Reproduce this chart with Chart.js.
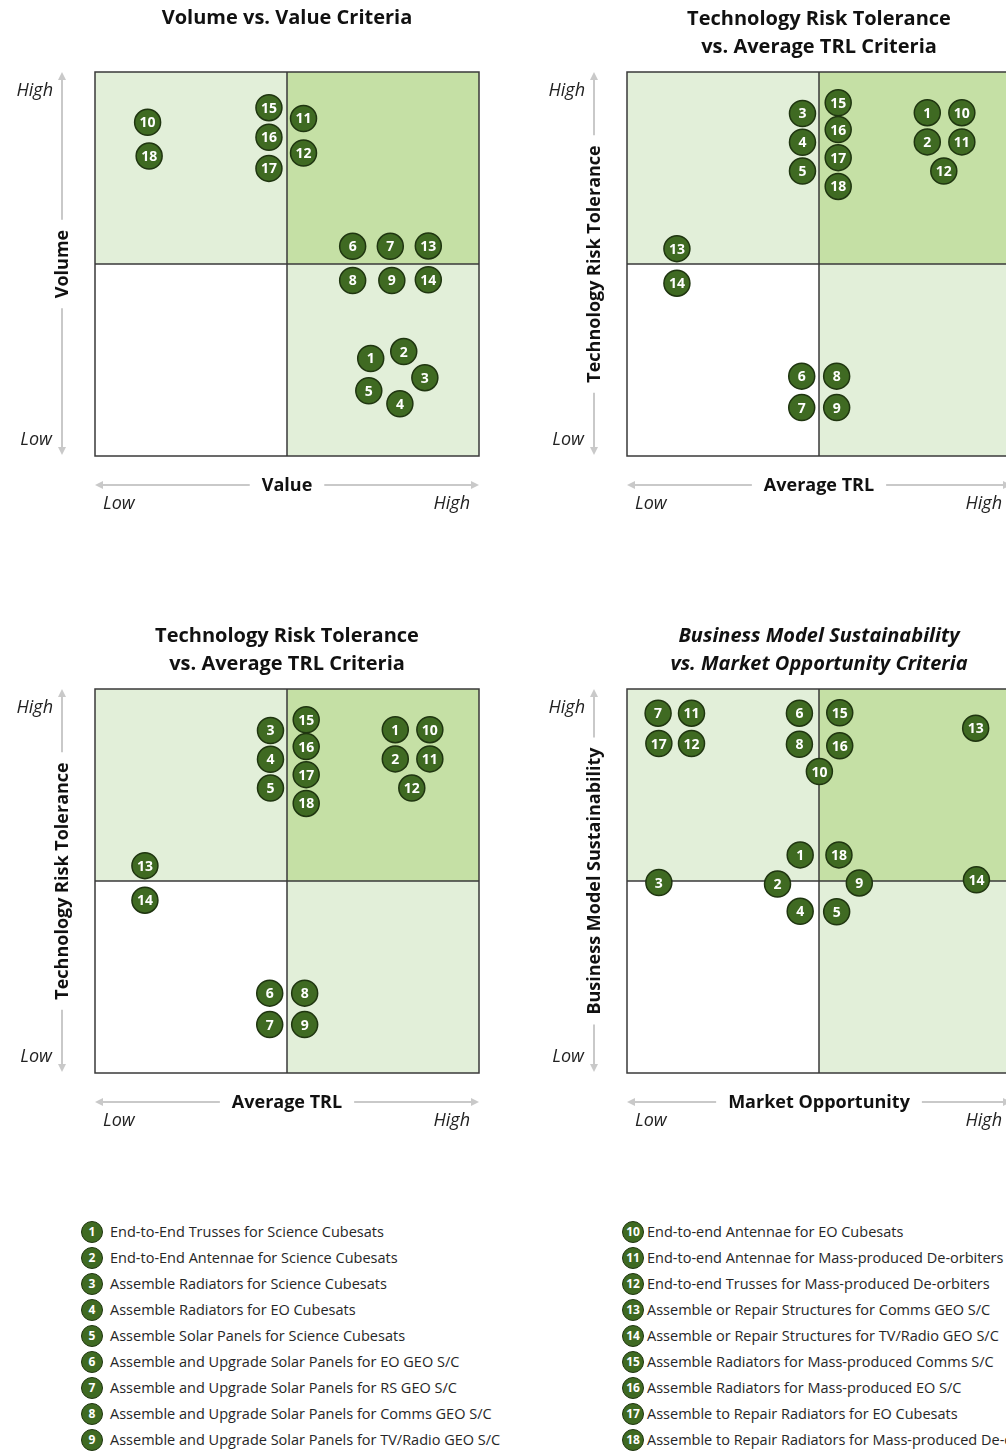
<!DOCTYPE html>
<html>
<head>
<meta charset="utf-8">
<script src="https://cdn.jsdelivr.net/npm/chart.js@4.4.1/dist/chart.umd.min.js"></script>
<style>
  body { margin: 0; width: 1006px; height: 1452px; overflow: hidden; background: #fff; position: relative; font-family: "Open Sans", Lato, sans-serif; }
  .box { position: absolute; }
  .legend { position: absolute; font-size: 14.5px; color: #262626; }
  .legend .row { position: absolute; white-space: nowrap; height: 22px; line-height: 22px; }
  .legend .dot { position: absolute; width: 20px; height: 20px; border-radius: 50%; background: #3f6a22; border: 1px solid #1f3510;
    color: #fff; font-weight: bold; font-size: 12px; line-height: 20px; text-align: center; top: 0; }
  .legend .txt { position: absolute; top: 0; }
</style>
</head>
<body>
<div class="box" style="left:0;top:0"><canvas id="c1"></canvas></div>
<div class="box" style="left:530px;top:0"><canvas id="c2"></canvas></div>
<div class="box" style="left:0;top:617px"><canvas id="c3"></canvas></div>
<div class="box" style="left:530px;top:617px"><canvas id="c4"></canvas></div>
<div class="legend" id="legend"></div>

<script>
// items 1..18
const itemIds = [1, 2, 3, 4, 5, 6, 7, 8, 9, 10, 11, 12, 13, 14, 15, 16, 17, 18];
const itemNames = [
  "End-to-End Trusses for Science Cubesats",
  "End-to-End Antennae for Science Cubesats",
  "Assemble Radiators for Science Cubesats",
  "Assemble Radiators for EO Cubesats",
  "Assemble Solar Panels for Science Cubesats",
  "Assemble and Upgrade Solar Panels for EO GEO S/C",
  "Assemble and Upgrade Solar Panels for RS GEO S/C",
  "Assemble and Upgrade Solar Panels for Comms GEO S/C",
  "Assemble and Upgrade Solar Panels for TV/Radio GEO S/C",
  "End-to-end Antennae for EO Cubesats",
  "End-to-end Antennae for Mass-produced De-orbiters",
  "End-to-end Trusses for Mass-produced De-orbiters",
  "Assemble or Repair Structures for Comms GEO S/C",
  "Assemble or Repair Structures for TV/Radio GEO S/C",
  "Assemble Radiators for Mass-produced Comms S/C",
  "Assemble Radiators for Mass-produced EO S/C",
  "Assemble to Repair Radiators for EO Cubesats",
  "Assemble to Repair Radiators for Mass-produced De-orbiters"
];

// scores on a 0..10 scale, 5 = quadrant divide
// Volume vs Value
const valueScore  = [7.18, 8.04, 8.59, 7.94, 7.13, 6.71, 7.69, 6.71, 7.73, 1.37, 5.43, 5.43, 8.68, 8.68, 4.53, 4.53, 4.53, 1.41];
const volumeScore = [2.54, 2.72, 2.04, 1.36, 1.70, 5.46, 5.46, 4.57, 4.57, 8.69, 8.79, 7.89, 5.47, 4.59, 9.07, 8.30, 7.49, 7.81];
// Technology risk tolerance vs average TRL
const trlScore  = [7.82, 7.82, 4.57, 4.57, 4.57, 4.55, 4.55, 5.46, 5.46, 8.72, 8.72, 8.25, 1.30, 1.30, 5.50, 5.50, 5.50, 5.50];
const riskScore = [8.94, 8.18, 8.92, 8.17, 7.42, 2.08, 1.26, 2.08, 1.26, 8.94, 8.18, 7.42, 5.40, 4.50, 9.20, 8.50, 7.77, 7.02];
// Business model sustainability vs market opportunity
const marketScore   = [4.51, 3.92, 0.83, 4.51, 5.46, 4.49, 0.81, 4.49, 6.05, 5.01, 1.68, 1.68, 9.08, 9.10, 5.54, 5.54, 0.83, 5.52];
const businessScore = [5.68, 4.92, 4.96, 4.21, 4.20, 9.37, 9.37, 8.56, 4.95, 7.85, 9.37, 8.58, 8.98, 5.03, 9.38, 8.52, 8.58, 5.68];

const lightGreen = '#e2efd9';
const midGreen = '#c5e0a5';
const dotFill = '#3f6a22';
const dotEdge = '#1f3510';
const arrowGrey = '#c9c9c9';
const FONT = '"Open Sans", Lato, sans-serif';

const quadrantPlugin = {
  id: 'quadrants',
  beforeDatasetsDraw(chart) {
    const { ctx, chartArea: a, scales: { x, y } } = chart;
    const mx = x.getPixelForValue(5), my = y.getPixelForValue(5);
    ctx.save();
    ctx.fillStyle = lightGreen;
    ctx.fillRect(a.left, a.top, mx - a.left, my - a.top);
    ctx.fillRect(mx, my, a.right - mx, a.bottom - my);
    ctx.fillStyle = midGreen;
    ctx.fillRect(mx, a.top, a.right - mx, my - a.top);
    ctx.strokeStyle = '#3a3a3a';
    ctx.lineWidth = 1.5;
    ctx.strokeRect(a.left, a.top, a.right - a.left, a.bottom - a.top);
    ctx.beginPath();
    ctx.moveTo(mx, a.top); ctx.lineTo(mx, a.bottom);
    ctx.moveTo(a.left, my); ctx.lineTo(a.right, my);
    ctx.stroke();
    ctx.restore();
  },
  afterDatasetsDraw(chart) {
    const { ctx } = chart;
    const ids = chart.data.datasets[0].ids;
    ctx.save();
    ctx.fillStyle = '#fff';
    ctx.font = 'bold 14px ' + FONT;
    ctx.textAlign = 'center';
    ctx.textBaseline = 'middle';
    chart.getDatasetMeta(0).data.forEach((pt, i) => {
      ctx.fillText(String(ids[i]), pt.x, pt.y + 1);
    });
    ctx.restore();
  },
  afterDraw(chart, args, opts) {
    const { ctx, chartArea: a } = chart;
    const cx = (a.left + a.right) / 2;
    const cy = (a.top + a.bottom) / 2;
    ctx.save();
    ctx.fillStyle = '#111';
    ctx.textAlign = 'center';
    ctx.textBaseline = 'middle';
    ctx.font = (opts.italic ? 'italic ' : '') + 'bold 20px ' + FONT;
    if (opts.title.length === 1) {
      ctx.fillText(opts.title[0], cx, a.top - 54);
    } else {
      ctx.fillText(opts.title[0], cx, a.top - 53);
      ctx.fillText(opts.title[1], cx, a.top - 25);
    }

    // axis arrows with gaps for titles
    ctx.font = 'bold 18px ' + FONT;
    const ax = a.left - 33;
    const ay = a.bottom + 29;
    const yw = ctx.measureText(opts.yTitle).width / 2 + 10;
    const xw = ctx.measureText(opts.xTitle).width / 2 + 12;
    ctx.strokeStyle = arrowGrey;
    ctx.fillStyle = arrowGrey;
    ctx.lineWidth = 2;
    ctx.beginPath();
    ctx.moveTo(ax, a.top + 6); ctx.lineTo(ax, cy - yw);
    ctx.moveTo(ax, cy + yw); ctx.lineTo(ax, a.bottom - 6);
    ctx.moveTo(a.left + 6, ay); ctx.lineTo(cx - xw, ay);
    ctx.moveTo(cx + xw, ay); ctx.lineTo(a.right - 6, ay);
    ctx.stroke();
    const tri = (p) => { ctx.beginPath(); ctx.moveTo(p[0], p[1]); ctx.lineTo(p[2], p[3]); ctx.lineTo(p[4], p[5]); ctx.closePath(); ctx.fill(); };
    tri([ax, a.top, ax - 4, a.top + 8, ax + 4, a.top + 8]);
    tri([ax, a.bottom - 1, ax - 4, a.bottom - 9, ax + 4, a.bottom - 9]);
    tri([a.left, ay, a.left + 8, ay - 4, a.left + 8, ay + 4]);
    tri([a.right, ay, a.right - 8, ay - 4, a.right - 8, ay + 4]);

    ctx.fillStyle = '#111';
    ctx.fillText(opts.xTitle, cx, ay + 1);
    ctx.save();
    ctx.translate(ax, cy);
    ctx.rotate(-Math.PI / 2);
    ctx.fillText(opts.yTitle, 0, 1);
    ctx.restore();

    // Low / High end labels
    ctx.font = 'italic 18px ' + FONT;
    ctx.fillStyle = '#222';
    ctx.textAlign = 'right';
    ctx.fillText('High', a.left - 42, a.top + 19);
    ctx.fillText('Low', a.left - 43, a.bottom - 16);
    ctx.textAlign = 'left';
    ctx.fillText('Low', a.left + 8, a.bottom + 48);
    ctx.textAlign = 'right';
    ctx.fillText('High', a.right - 9, a.bottom + 48);
    ctx.restore();
  }
};

function makeQuadrant(id, w, padLeft, xs, ys, title, italic, xTitle, yTitle) {
  const canvas = document.getElementById(id);
  canvas.style.width = w + 'px';
  canvas.style.height = '530px';
  canvas.width = w;
  canvas.height = 530;
  return new Chart(canvas, {
    type: 'scatter',
    data: {
      datasets: [{
        ids: itemIds,
        data: xs.map((v, i) => ({ x: v, y: ys[i] })),
        backgroundColor: dotFill,
        borderColor: dotEdge,
        borderWidth: 1.5,
        pointRadius: 13,
        pointHoverRadius: 13
      }]
    },
    options: {
      responsive: false,
      animation: false,
      events: [],
      layout: { padding: { left: padLeft, top: 72, right: w - padLeft - 384, bottom: 530 - 72 - 384 } },
      scales: {
        x: { display: false, min: 0, max: 10 },
        y: { display: false, min: 0, max: 10 }
      },
      plugins: {
        legend: { display: false },
        tooltip: { enabled: false },
        quadrants: { title: title, italic: italic, xTitle: xTitle, yTitle: yTitle }
      }
    },
    plugins: [quadrantPlugin]
  });
}

makeQuadrant('c1', 520, 95, valueScore, volumeScore, ['Volume vs. Value Criteria'], false, 'Value', 'Volume');
makeQuadrant('c2', 520, 97, trlScore, riskScore, ['Technology Risk Tolerance', 'vs. Average TRL Criteria'], false, 'Average TRL', 'Technology Risk Tolerance');
makeQuadrant('c3', 520, 95, trlScore, riskScore, ['Technology Risk Tolerance', 'vs. Average TRL Criteria'], false, 'Average TRL', 'Technology Risk Tolerance');
makeQuadrant('c4', 520, 97, marketScore, businessScore, ['Business Model Sustainability', 'vs. Market Opportunity Criteria'], true, 'Market Opportunity', 'Business Model Sustainability');

// legend list
const legend = document.getElementById('legend');
itemIds.forEach((n, i) => {
  const col = i < 9 ? 0 : 1;
  const r = i % 9;
  const row = document.createElement('div');
  row.className = 'row';
  row.style.left = (col ? 622 : 81) + 'px';
  row.style.top = (1221 + r * 26) + 'px';
  row.innerHTML = '<span class="dot">' + n + '</span><span class="txt" style="left:' + (col ? 25 : 29) + 'px">' + itemNames[i] + '</span>';
  legend.appendChild(row);
});
</script>
</body>
</html>
